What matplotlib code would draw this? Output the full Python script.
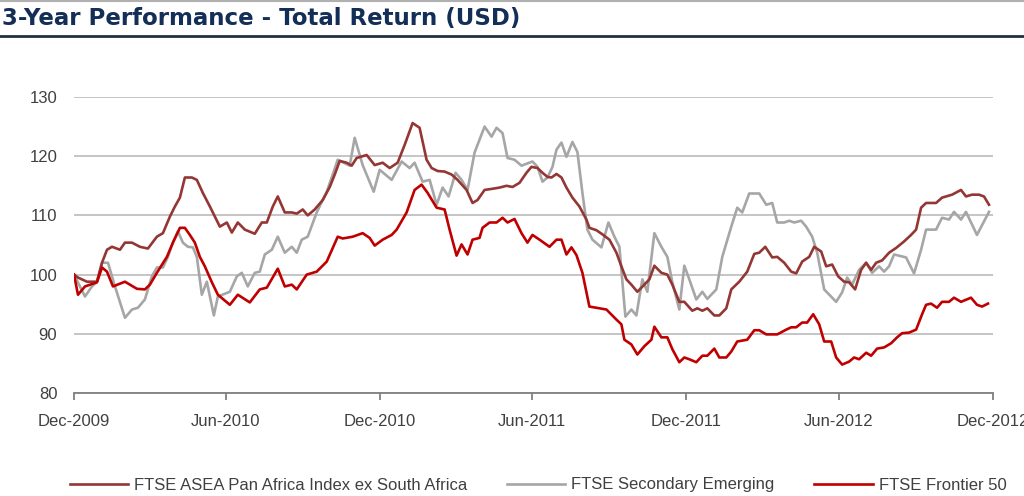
import numpy as np
import pandas as pd
import matplotlib
matplotlib.use("Agg")
import matplotlib.pyplot as plt
from matplotlib.lines import Line2D

# ---------------- data (weeks since 31-Dec-2009, index level) ----------------
africa_weeks = [0, 0.68, 2.21, 3.91, 4.77, 5.62, 6.47, 7.83, 8.68, 9.87, 11.23, 12.59, 14.12, 15.15,
                16.34, 17.19, 18.04, 18.89, 20.08, 20.93, 21.95, 23.15, 24.0, 24.85, 26.04, 26.89,
                27.91, 29.1, 30.8, 31.99, 32.85, 33.87, 34.72, 35.91, 37.1, 37.95, 38.97, 39.82,
                41.01, 42.38, 43.57, 44.42, 45.27, 46.46, 47.31, 48.16, 49.86, 51.23, 52.59, 53.78,
                55.14, 56.33, 57.69, 58.88, 60.07, 60.93, 61.95, 63.14, 64.33, 65.35, 66.88, 67.9,
                68.75, 69.95, 71.31, 72.5, 73.69, 74.71, 75.9, 77.09, 77.94, 78.97, 79.82, 80.67,
                81.35, 82.2, 83.05, 83.9, 84.92, 86.11, 87.3, 87.81, 89.0, 90.03, 91.22, 92.41,
                93.26, 94.11, 94.96, 95.98, 97.17, 98.03, 98.88, 100.07, 101.09, 101.94, 103.13,
                103.98, 105.34, 106.19, 107.05, 107.9, 109.09, 109.94, 111.13, 111.98, 113.34,
                114.7, 115.9, 116.75, 117.77, 118.96, 119.81, 121.0, 122.19, 123.04, 124.06,
                125.26, 126.11, 127.3, 128.15, 129.17, 130.19, 131.21, 132.06, 133.08, 134.1,
                134.96, 135.81, 136.66, 137.68, 138.87, 140.06, 141.42, 142.61, 143.47, 144.32,
                145.17, 146.87, 147.89, 149.59, 151.12, 151.97, 152.99, 154.18, 155.04, 155.89]
africa_vals = [100, 99.5, 98.8, 98.8, 102, 104.2, 104.7, 104.2, 105.4, 105.4, 104.7, 104.4, 106.4, 107,
               109.8, 111.5, 113, 116.4, 116.4, 116, 113.8, 111.5, 109.8, 108.1, 108.8, 107.1,
               108.8, 107.6, 106.9, 108.8, 108.8, 111.5, 113.2, 110.5, 110.5, 110.3, 111, 110,
               111, 112.6, 114.8, 116.9, 119.2, 118.9, 118.4, 119.7, 120.2, 118.5, 118.9, 118,
               118.9, 121.9, 125.6, 124.8, 119.4, 118, 117.5, 117.4, 116.9, 116, 114.3, 112.1,
               112.6, 114.3, 114.5, 114.7, 115, 114.8, 115.5, 117.2, 118.2, 118, 117.2, 116.5,
               116.4, 117, 116.4, 114.7, 113, 111.5, 109.3, 107.9, 107.5, 106.8, 105.9, 103.7,
               101.4, 99.2, 98.3, 97.1, 98.3, 99.2, 101.5, 100.3, 100, 98.3, 95.4,
               95.4, 93.9, 94.3, 93.9, 94.3, 93.1, 93.1, 94.3, 97.5, 98.8,
               100.5, 103.5, 103.7, 104.7, 102.9, 103, 102, 100.5, 100.2, 102.2,
               103, 104.7, 103.9, 101.4, 101.7, 99.7, 98.8, 98.7, 97.5, 100.8,
               102, 100.8, 102, 102.4, 103.7, 104.5, 105.6, 106.7, 107.6, 111.3,
               112.1, 112.1, 113, 113.5, 114.3, 113.2, 113.5, 113.5, 113.2, 111.8]

secondary_weeks = [0, 1.87, 3.06, 3.91, 4.77, 5.79, 6.98, 8.68, 9.87, 10.89, 12.08, 13.27, 14.12,
                   15.15, 16.0, 16.85, 17.7, 18.55, 19.4, 20.25, 20.93, 21.78, 22.63, 23.15, 23.83,
                   24.51, 26.55, 27.74, 28.59, 29.61, 30.8, 31.65, 32.51, 33.7, 34.72, 35.91, 37.1,
                   37.95, 38.8, 39.82, 41.35, 43.06, 44.08, 44.93, 46.97, 47.82, 49.18, 51.06, 52.08,
                   54.12, 55.82, 57.18, 58.03, 59.39, 60.59, 61.78, 62.8, 63.82, 65.01, 66.03, 67.05,
                   68.24, 69.95, 71.14, 71.99, 73.01, 73.86, 75.05, 76.24, 78.11, 78.97, 79.82, 80.67,
                   81.52, 82.2, 83.05, 83.9, 84.92, 85.77, 86.62, 87.47, 88.33, 89.86, 91.05, 92.07,
                   92.92, 93.26, 93.94, 94.96, 95.81, 96.83, 97.68, 98.88, 100.07, 101.09, 101.94,
                   103.13, 103.98, 104.83, 106.02, 107.05, 107.9, 109.43, 110.45, 111.98, 113.0,
                   113.85, 115.04, 116.75, 117.94, 118.96, 119.81, 121.0, 121.85, 122.7, 123.89,
                   124.74, 125.77, 126.62, 127.81, 129.85, 130.87, 131.72, 132.57, 133.76, 134.96,
                   135.98, 137.17, 138.02, 138.87, 139.72, 141.76, 143.12, 144.32, 145.17, 146.87,
                   147.89, 149.08, 149.93, 151.12, 151.97, 153.84, 155.89]
secondary_vals = [100, 96.3, 98, 98.8, 102, 102, 98, 92.7, 94.1, 94.4, 95.8, 99.7, 101.2,
                  101.2, 103, 105.4, 107.3, 105.4, 104.7, 104.6, 103, 96.6, 98.8, 96.3, 93.1,
                  96.3, 97.1, 99.7, 100.3, 98, 100.3, 100.5, 103.4, 104.2, 106.4, 103.7, 104.7,
                  103.7, 105.9, 106.4, 110.5, 114, 116.9, 119.4, 118.4, 123.1, 118.5, 114, 117.7,
                  116, 119.1, 118, 118.9, 115.7, 116, 111.8, 114.7, 113.2, 117.2, 116, 114.3,
                  120.6, 125, 123.3, 124.8, 123.9, 119.7, 119.4, 118.4, 119.1, 118.2, 115.7, 116.4,
                  118.2, 121.1, 122.3, 119.9, 122.4, 120.7, 113.8, 107.6, 105.9, 104.6, 108.8, 106.4,
                  104.7, 100.8, 92.9, 94.1, 93.1, 99.2, 97.1, 107, 104.7, 103, 98.7,
                  94.1, 101.5, 99.2, 95.8, 97.1, 95.9, 97.5, 103, 108.1, 111.3,
                  110.5, 113.7, 113.7, 111.8, 112.1, 108.8, 108.8, 109.1, 108.8, 109.1,
                  108.1, 106.4, 103.7, 97.5, 95.4, 97, 99.5, 98.3, 100.8, 102,
                  100.3, 101.4, 100.5, 101.4, 103.4, 102.9, 100.2, 104.2, 107.6, 107.6,
                  109.6, 109.3, 110.6, 109.3, 110.6, 106.7, 110.6]

frontier_weeks = [0, 0.68, 1.87, 3.91, 4.77, 5.62, 6.64, 8.68, 10.72, 12.08, 12.93, 14.12, 15.83,
                  16.85, 18.04, 18.89, 19.74, 20.59, 21.44, 22.29, 23.49, 24.51, 26.55, 27.91, 29.95,
                  31.65, 32.85, 34.72, 35.91, 37.1, 37.95, 39.65, 41.35, 43.06, 44.93, 45.78, 47.48,
                  49.18, 50.37, 51.23, 52.59, 54.12, 54.97, 56.67, 58.03, 59.22, 60.25, 61.78, 63.14,
                  63.99, 65.18, 66.03, 67.05, 67.9, 69.09, 69.6, 70.8, 71.99, 73.01, 73.86, 75.05,
                  76.24, 77.26, 78.11, 79.31, 81.01, 82.2, 83.05, 83.9, 84.75, 85.6, 86.62, 87.81,
                  89.0, 90.71, 92.41, 93.26, 93.77, 94.96, 95.98, 97.17, 98.37, 98.88, 100.07,
                  101.09, 101.94, 103.13, 103.98, 104.83, 106.02, 107.05, 107.9, 109.09, 109.94,
                  111.13, 111.98, 113.0, 114.7, 115.9, 116.75, 117.94, 119.81, 121.34, 122.19,
                  123.04, 124.06, 124.91, 125.94, 126.96, 127.81, 129.0, 129.85, 130.87, 132.06,
                  132.91, 133.76, 134.96, 135.81, 136.83, 138.02, 139.21, 140.23, 141.08, 142.27,
                  143.47, 144.49, 145.17, 146.02, 147.04, 147.89, 149.08, 149.93, 151.12, 152.82,
                  153.84, 154.7, 155.72]
frontier_vals = [100, 96.6, 98, 98.7, 101.2, 100.5, 98, 98.8, 97.6, 97.5, 98.3, 100.3, 103,
                 105.4, 107.9, 107.9, 106.7, 105.4, 103, 101.4, 98.7, 96.6, 94.9, 96.6, 95.3,
                 97.5, 97.8, 101, 98, 98.3, 97.5, 100, 100.5, 102.2, 106.4, 106.1, 106.4,
                 107, 106.2, 104.9, 105.9, 106.7, 107.6, 110.5, 114.3, 115.2, 113.8, 111.3, 111,
                 107.6, 103.2, 105.1, 103.4, 105.9, 106.2, 107.9, 108.8, 108.8, 109.6, 108.8, 109.4,
                 107, 105.4, 106.7, 105.9, 104.7, 105.9, 105.9, 103.4, 104.6, 103.3, 100.3, 94.6,
                 94.4, 94.1, 92.4, 91.6, 89, 88.2, 86.5, 87.9, 89, 91.2, 89.4,
                 89.4, 87.4, 85.2, 86, 85.7, 85.2, 86.3, 86.3, 87.5, 86,
                 86, 87, 88.7, 89, 90.6, 90.6, 89.9, 89.9, 90.7, 91.1,
                 91.1, 91.9, 91.9, 93.3, 91.6, 88.7, 88.7, 86, 84.8, 85.3,
                 86, 85.7, 86.8, 86.3, 87.5, 87.7, 88.4, 89.4, 90.1, 90.2,
                 90.7, 93.3, 94.9, 95.1, 94.4, 95.4, 95.4, 96.1, 95.4, 96.1,
                 94.9, 94.6, 95.1]

series_names = ["FTSE ASEA Pan Africa Index ex South Africa",
                "FTSE Secondary Emerging",
                "FTSE Frontier 50"]
tick_dates = ["2009-12-31", "2010-06-30", "2010-12-31", "2011-06-30",
              "2011-12-31", "2012-06-30", "2012-12-31"]
tick_labels = ["Dec-2009", "Jun-2010", "Dec-2010", "Jun-2011",
               "Dec-2011", "Jun-2012", "Dec-2012"]
y_ticks = [80, 90, 100, 110, 120, 130]
title = "3-Year Performance - Total Return (USD)"

# ---------------- plotting ----------------
start = pd.Timestamp("2009-12-31")
def to_dates(weeks):
    return start + pd.to_timedelta(np.array(weeks) * 7.0, unit="D")

W, H = 1024, 496
fig = plt.figure(figsize=(W / 100, H / 100), dpi=100)
fig.patch.set_facecolor("white")

ax = fig.add_axes([74 / W, 1 - 393 / H, (993 - 74) / W, (393 - 97) / H])

colors = ["#943634", "#A6A6A6", "#C00000"]
for wk, vals, name, c in [(secondary_weeks, secondary_vals, series_names[1], colors[1]),
                          (africa_weeks, africa_vals, series_names[0], colors[0]),
                          (frontier_weeks, frontier_vals, series_names[2], colors[2])]:
    ax.plot(to_dates(wk), vals, color=c, lw=1.9, label=name, solid_joinstyle="round")

ax.set_ylim(80, 130)
ax.set_yticks(y_ticks)
ax.set_xlim(pd.Timestamp(tick_dates[0]), pd.Timestamp(tick_dates[-1]))
ax.set_xticks([pd.Timestamp(d) for d in tick_dates])
ax.set_xticklabels(tick_labels)

ax.grid(axis="y", color="#C0C0C0", lw=1.3)
ax.set_axisbelow(True)
for s in ["top", "right", "left"]:
    ax.spines[s].set_visible(False)
ax.spines["bottom"].set_color("#808080")
ax.spines["bottom"].set_linewidth(1.3)
ax.tick_params(axis="y", length=0, pad=12, labelsize=12, labelcolor="#404040")
ax.tick_params(axis="x", length=5, width=1.3, color="#808080", pad=10,
               labelsize=12, labelcolor="#404040")
for lab in ax.get_xticklabels() + ax.get_yticklabels():
    lab.set_fontfamily(["Liberation Sans", "DejaVu Sans"])
ax.set_facecolor("white")

# title and rules
fig.text(2 / W, 1 - 19 / H, title, fontsize=16.5, fontweight="bold",
         color="#132E57", va="center", ha="left", family="DejaVu Sans")
fig.add_artist(Line2D([0, 1], [1 - 36 / H, 1 - 36 / H], color="#1F3040", lw=2))
fig.add_artist(Line2D([0, 1], [1 - 1 / H, 1 - 1 / H], color="#B0B0B0", lw=1.5))

# legend
handles, labels = ax.get_legend_handles_labels()
order = [labels.index(n) for n in series_names]
leg = fig.legend([handles[i] for i in order], [labels[i] for i in order],
                 loc="center", bbox_to_anchor=(538 / W, 1 - 485 / H), ncol=3,
                 frameon=False, handlelength=3.5, columnspacing=2.4, handletextpad=0.35,
                 borderpad=0.2, prop={"family": "Liberation Sans", "size": 12})
for t in leg.get_texts():
    t.set_color("#404040")

fig.savefig("out.png", dpi=100, facecolor="white")
